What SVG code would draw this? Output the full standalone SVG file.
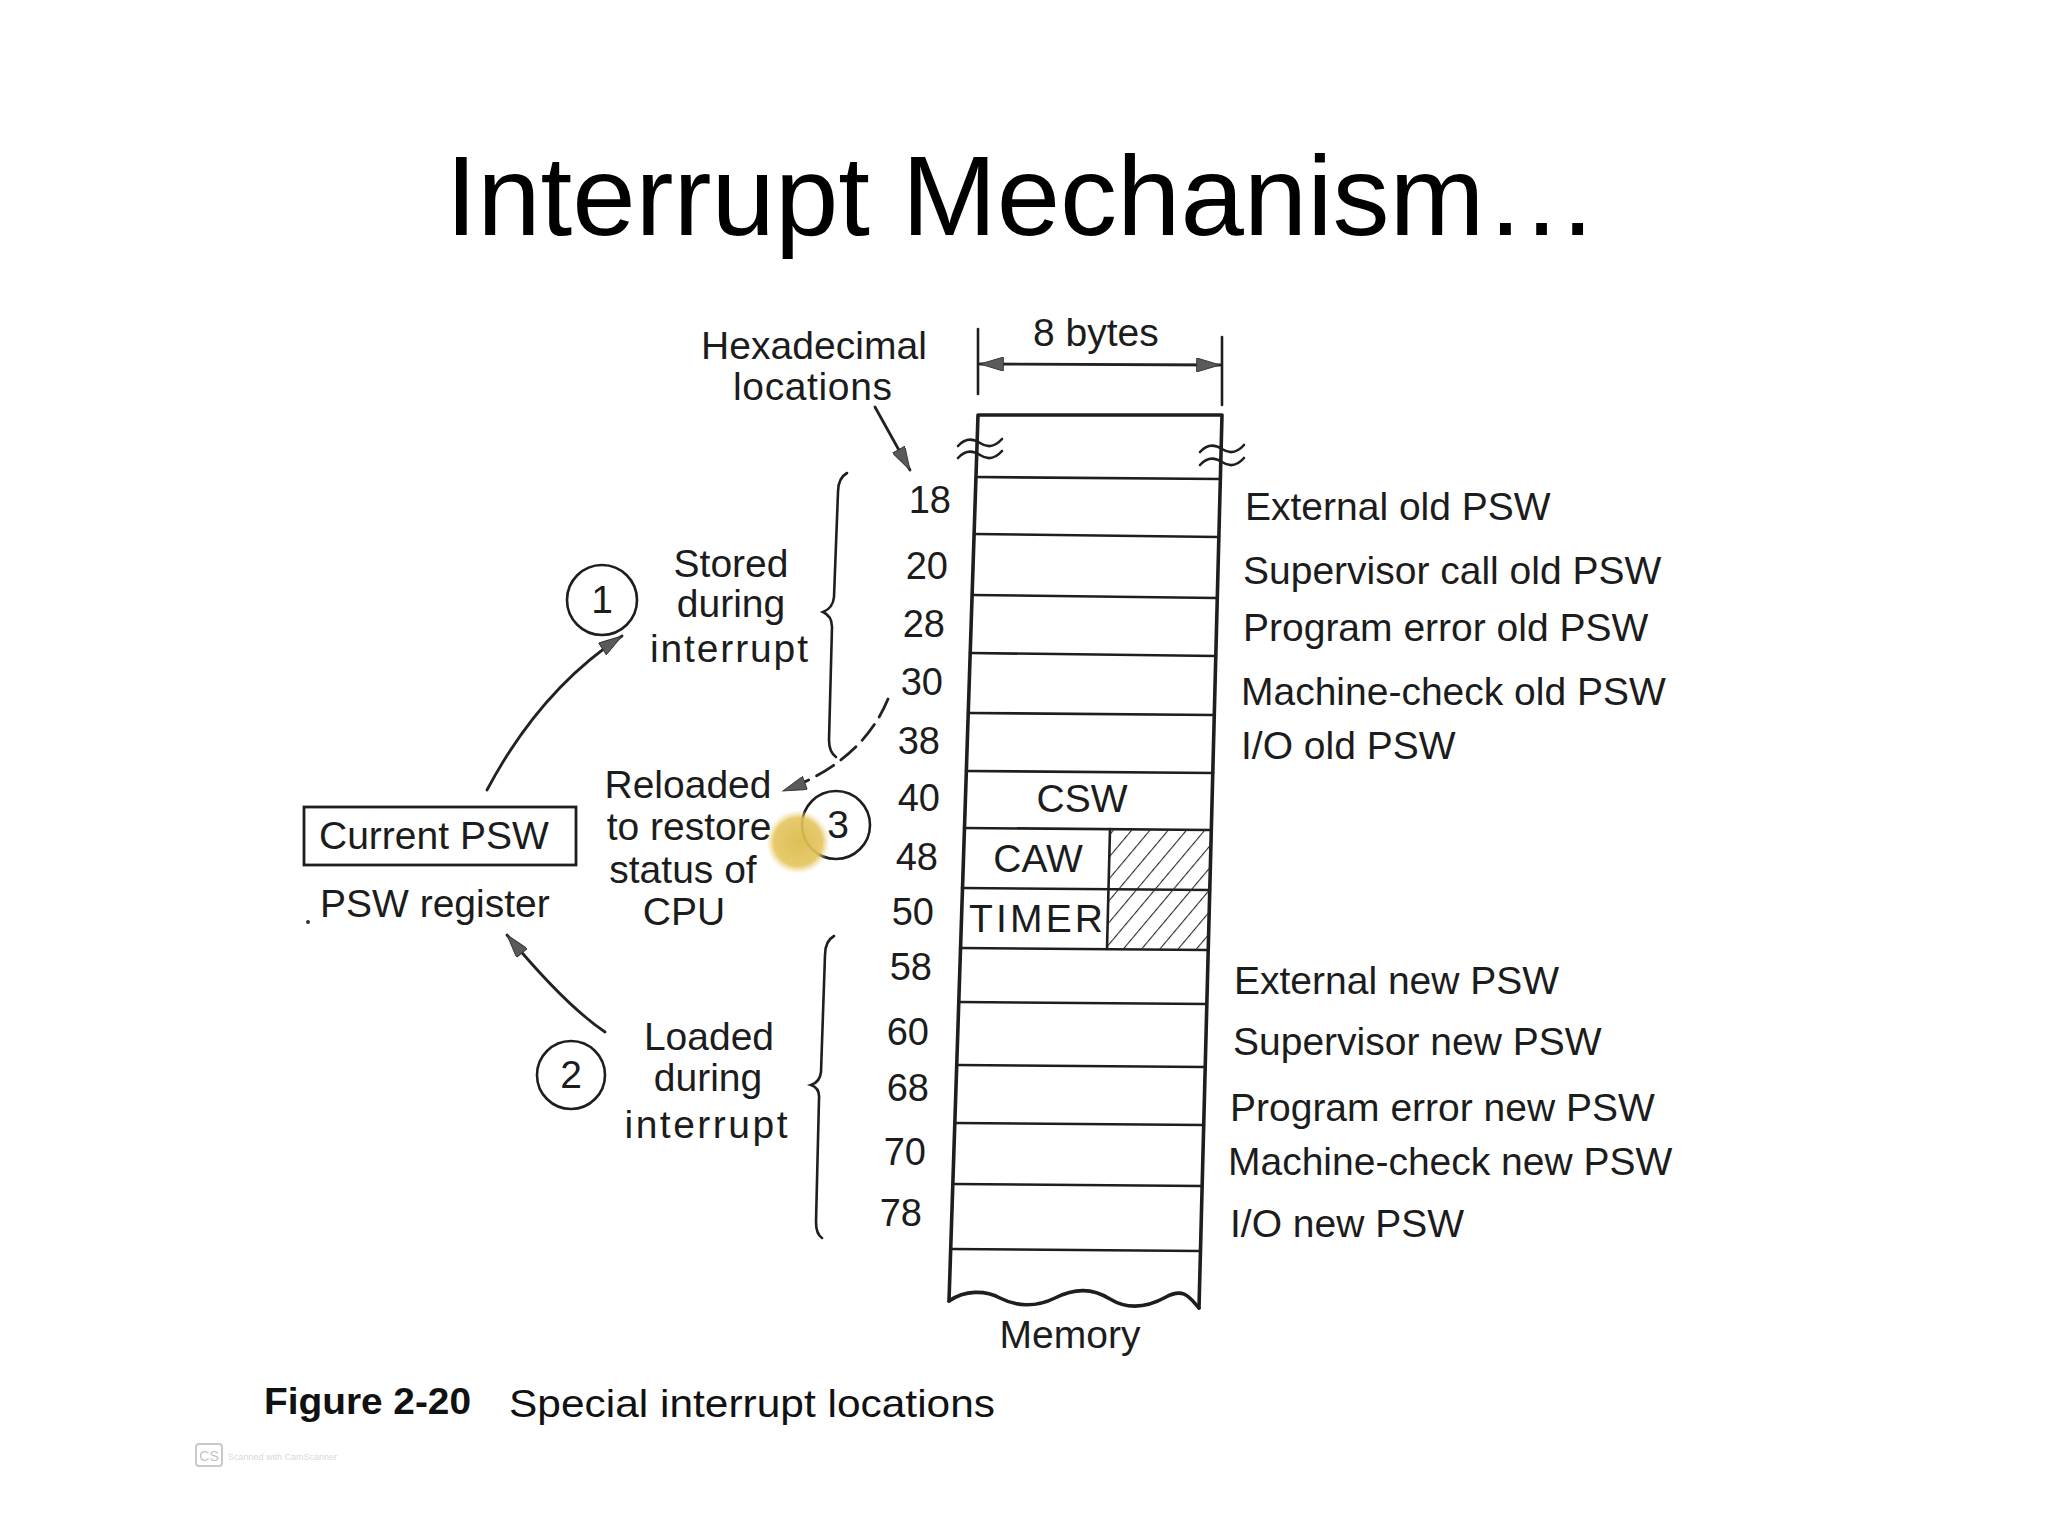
<svg xmlns="http://www.w3.org/2000/svg" width="2048" height="1536" viewBox="0 0 2048 1536">
<defs>
<style>
.t{font-family:"Liberation Sans",Arial,sans-serif;font-size:39px;fill:#1c1c1c}
.num{font-family:"Liberation Sans",Arial,sans-serif;font-size:38px;fill:#1c1c1c;text-anchor:end}
.c{text-anchor:middle}
.ln{stroke:#1e1e1e;fill:none;stroke-width:2.6;stroke-linecap:round}
.edge{stroke:#1e1e1e;fill:none;stroke-width:3.6;stroke-linecap:round;stroke-linejoin:round}
.circ{stroke:#1e1e1e;fill:none;stroke-width:2.6}
.arr{stroke:#222;fill:none;stroke-width:2.8;stroke-linecap:round}
</style>
<marker id="ah" viewBox="0 0 10 6" refX="10" refY="3" markerWidth="30" markerHeight="14" markerUnits="userSpaceOnUse" orient="auto-start-reverse">
<path d="M0,0 L10,3 L0,6 z" fill="#5a5a5a" stroke="#333" stroke-width="0.4"/>
</marker>
<pattern id="hatch" width="14" height="14" patternUnits="userSpaceOnUse" patternTransform="rotate(40)">
<line x1="0" y1="0" x2="0" y2="14" stroke="#2a2a2a" stroke-width="2.2"/>
</pattern>
<radialGradient id="blob" cx="0.5" cy="0.5" r="0.5">
<stop offset="0" stop-color="#dcbb4e" stop-opacity="0.95"/>
<stop offset="0.75" stop-color="#e3c45c" stop-opacity="0.9"/>
<stop offset="1" stop-color="#efd98f" stop-opacity="0"/>
</radialGradient>
</defs>
<rect width="2048" height="1536" fill="#ffffff"/>

<g id="title">
<text x="1022" y="235" font-family="'Liberation Sans',Arial,sans-serif" font-size="114" fill="#000" text-anchor="middle">Interrupt Mechanism…</text>
</g>

<g id="memory">
<path class="edge" d="M949,1301 L978,415 L1222,415 L1199,1308"/>
<path class="ln" d="M958,446 c8,-9 16,-7 22,-3 s14,5 22,-4"/>
<path class="ln" d="M958,458 c8,-9 16,-7 22,-3 s14,5 22,-4"/>
<path class="ln" d="M1200,452 c8,-9 16,-7 22,-3 s14,5 22,-4"/>
<path class="ln" d="M1200,465 c8,-9 16,-7 22,-3 s14,5 22,-4"/>
<line class="ln" x1="976" y1="477" x2="1220" y2="479"/>
<line class="ln" x1="974" y1="534" x2="1219" y2="537"/>
<line class="ln" x1="972" y1="595" x2="1217" y2="598"/>
<line class="ln" x1="970" y1="653" x2="1216" y2="656"/>
<line class="ln" x1="968" y1="713" x2="1214" y2="715"/>
<line class="ln" x1="966" y1="771" x2="1213" y2="773"/>
<line class="ln" x1="964" y1="828" x2="1211" y2="830"/>
<line class="ln" x1="962" y1="888" x2="1210" y2="890"/>
<line class="ln" x1="960" y1="948" x2="1208" y2="950"/>
<line class="ln" x1="959" y1="1002" x2="1207" y2="1004"/>
<line class="ln" x1="957" y1="1065" x2="1205" y2="1067"/>
<line class="ln" x1="955" y1="1123" x2="1204" y2="1125"/>
<line class="ln" x1="953" y1="1184" x2="1202" y2="1186"/>
<line class="ln" x1="951" y1="1249" x2="1200" y2="1251"/>
<path class="edge" d="M949,1301 C965,1290 985,1290 1000,1298 S1035,1308 1055,1298 S1092,1288 1110,1299 S1148,1307 1166,1297 S1190,1298 1199,1308"/>
<polygon points="1110,829 1211,830 1208,950 1107,949" fill="url(#hatch)"/>
<line class="ln" x1="1110" y1="829" x2="1107" y2="949"/>
<text class="t c" x="1082" y="812">CSW</text>
<text class="t c" x="1038" y="872">CAW</text>
<text class="t" x="969" y="932" textLength="134" lengthAdjust="spacing">TIMER</text>
<text class="t c" x="1070" y="1348">Memory</text>
</g>

<g id="dimension">
<line class="ln" x1="978" y1="329" x2="978" y2="394"/>
<line class="ln" x1="1222" y1="337" x2="1222" y2="405"/>
<line class="arr" x1="980" y1="364" x2="1220" y2="365" marker-start="url(#ah)" marker-end="url(#ah)"/>
<text class="t" x="1033" y="346">8 bytes</text>
</g>

<g id="hex-label">
<text class="t" x="701" y="359" textLength="226" lengthAdjust="spacing">Hexadecimal</text>
<text class="t" x="733" y="400" textLength="159" lengthAdjust="spacing">locations</text>
</g>

<g id="addresses">
<text class="num" x="951" y="513">18</text>
<text class="num" x="948" y="579">20</text>
<text class="num" x="945" y="637">28</text>
<text class="num" x="943" y="695">30</text>
<text class="num" x="940" y="754">38</text>
<text class="num" x="940" y="811">40</text>
<text class="num" x="938" y="870">48</text>
<text class="num" x="934" y="925">50</text>
<text class="num" x="932" y="980">58</text>
<text class="num" x="929" y="1045">60</text>
<text class="num" x="929" y="1101">68</text>
<text class="num" x="926" y="1165">70</text>
<text class="num" x="922" y="1226">78</text>
</g>

<g id="old-psw-labels">
<text class="t" x="1245" y="520">External old PSW</text>
<text class="t" x="1243" y="584">Supervisor call old PSW</text>
<text class="t" x="1243" y="641">Program error old PSW</text>
<text class="t" x="1241" y="705">Machine-check old PSW</text>
<text class="t" x="1241" y="759">I/O old PSW</text>
</g>

<g id="new-psw-labels">
<text class="t" x="1234" y="994">External new PSW</text>
<text class="t" x="1233" y="1055">Supervisor new PSW</text>
<text class="t" x="1230" y="1121">Program error new PSW</text>
<text class="t" x="1228" y="1175">Machine-check new PSW</text>
<text class="t" x="1230" y="1237">I/O new PSW</text>
</g>

<g id="brace-stored">
<path class="ln" stroke-width="3" d="M847,473 Q838,478 838,492 L834,597 Q833,608 823,612 Q832,616 832,627 L829,740 Q829,752 836,757"/>
<text class="t c" x="731" y="577">Stored</text>
<text class="t c" x="731" y="617">during</text>
<text class="t c" x="729" y="662" textLength="158" lengthAdjust="spacing">interrupt</text>
</g>

<g id="brace-loaded">
<path class="ln" stroke-width="3" d="M834,936 Q825,941 825,955 L821,1072 Q820,1082 811,1085 Q820,1088 819,1099 L816,1222 Q816,1234 822,1238"/>
<text class="t c" x="709" y="1050">Loaded</text>
<text class="t c" x="708" y="1091">during</text>
<text class="t c" x="706" y="1138" textLength="163" lengthAdjust="spacing">interrupt</text>
</g>

<g id="reloaded">
<text class="t c" x="688" y="798">Reloaded</text>
<text class="t c" x="689" y="840">to restore</text>
<text class="t c" x="683" y="883">status of</text>
<text class="t c" x="684" y="925">CPU</text>
</g>

<g id="current-psw">
<rect x="304" y="807" width="272" height="58" fill="none" stroke="#1e1e1e" stroke-width="2.8"/>
<text class="t" x="319" y="849">Current PSW</text>
<text class="t" x="320" y="917">PSW register</text>
<circle cx="308" cy="922" r="2" fill="#333"/>
</g>

<g id="step1">
<circle class="circ" cx="602" cy="600" r="35"/>
<text class="t c" x="602" y="613">1</text>
</g>
<g id="step2">
<circle class="circ" cx="571" cy="1075" r="34"/>
<text class="t c" x="571" y="1088">2</text>
</g>
<g id="step3">
<circle class="circ" cx="836" cy="825" r="34"/>
<text class="t c" x="838" y="838">3</text>
<circle cx="798" cy="842" r="32" fill="url(#blob)"/>
</g>

<g id="connectors">
<line class="arr" x1="875" y1="407" x2="910" y2="470" marker-end="url(#ah)"/>
<path class="arr" d="M487,790 Q540,690 622,636" marker-end="url(#ah)"/>
<path class="arr" d="M605,1032 Q565,1005 507,935" marker-end="url(#ah)"/>
<path class="arr" stroke-dasharray="20 9" d="M888,699 Q862,762 783,791" marker-end="url(#ah)"/>
</g>

<g id="caption">
<text x="264" y="1414" font-family="'Liberation Sans',Arial,sans-serif" font-weight="bold" font-size="36" fill="#111" textLength="207" lengthAdjust="spacingAndGlyphs">Figure 2-20</text>
<text x="509" y="1417" font-family="'Liberation Sans',Arial,sans-serif" font-size="39" fill="#111" textLength="486" lengthAdjust="spacingAndGlyphs">Special interrupt locations</text>
</g>

<g id="scanner-mark" opacity="0.45">
<rect x="196" y="1444" width="26" height="22" rx="3" fill="none" stroke="#888" stroke-width="2"/>
<text x="209" y="1461" font-family="'Liberation Sans',Arial,sans-serif" font-size="14" fill="#777" text-anchor="middle">CS</text>
<text x="228" y="1460" font-family="'Liberation Sans',Arial,sans-serif" font-size="9" fill="#aaa">Scanned with CamScanner</text>
</g>
</svg>
